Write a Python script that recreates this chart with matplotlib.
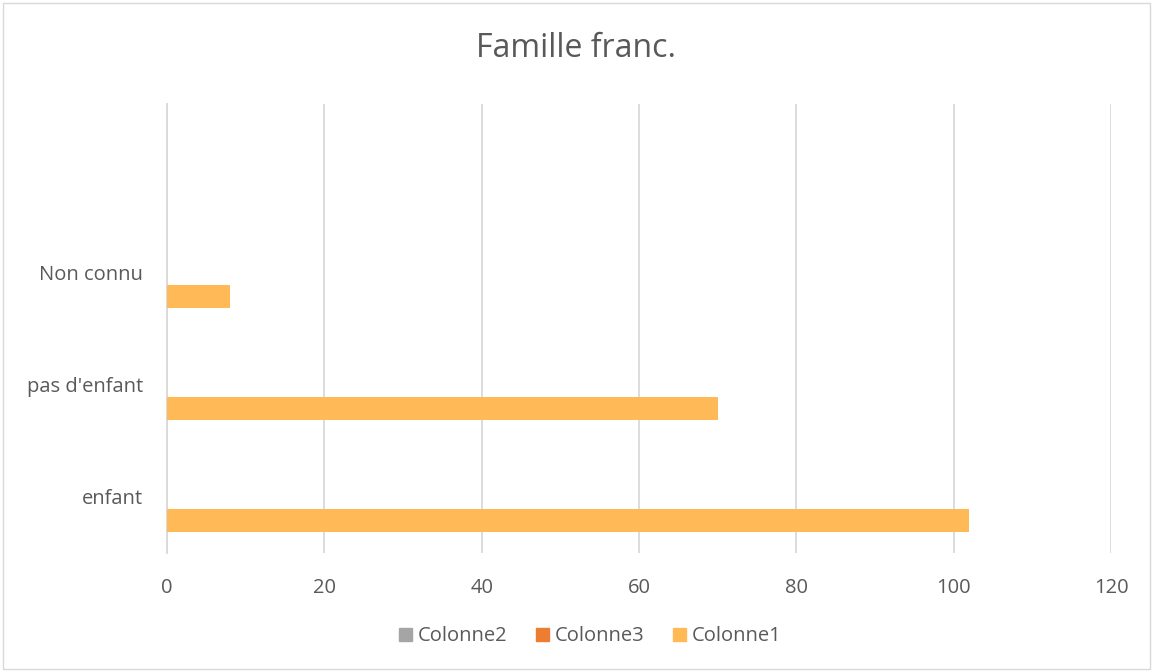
import matplotlib.pyplot as plt
from matplotlib.patches import Patch, Rectangle

categories = ['enfant', "pas d'enfant", 'Non connu']
colonne1 = [102, 70, 8]
colonne2 = [0, 0, 0]
colonne3 = [0, 0, 0]
x_ticks = [0, 20, 40, 60, 80, 100, 120]

text_color = '#595959'
grid_color = '#D9D9D9'
c1 = '#FFB957'
c2 = '#A5A5A5'
c3 = '#ED7D31'

plt.rcParams['font.family'] = ['Open Sans', 'DejaVu Sans']

fig = plt.figure(figsize=(11.53, 6.72), dpi=100)
ax = fig.add_axes([0.1448, 0.1771, 0.9636 - 0.1448, 0.8452 - 0.1771])

# outer chart border
fig.patches.append(Rectangle((0.003, 0.005), 0.994, 0.99, transform=fig.transFigure,
                             fill=False, edgecolor=grid_color, linewidth=1))

pos = list(range(len(categories)))
h = 0.204
ax.barh([p - 0.213 for p in pos], colonne1, height=h, color=c1, zorder=3)
ax.barh(pos, colonne3, height=h, color=c3, zorder=3)
ax.barh([p + 0.213 for p in pos], colonne2, height=h, color=c2, zorder=3)

ax.set_xlim(0, 120)
ax.set_ylim(-0.5, 3.5)
ax.set_xticks(x_ticks)
ax.set_yticks(pos)
ax.set_yticklabels(categories)
ax.grid(axis='x', color=grid_color, linewidth=1.3, zorder=0)
ax.tick_params(axis='both', length=0, labelsize=14.5, colors=text_color)
ax.tick_params(axis='x', pad=18)
ax.tick_params(axis='y', pad=17)
for s in ['top', 'right', 'bottom']:
    ax.spines[s].set_visible(False)
ax.spines['left'].set_color(grid_color)
ax.spines['left'].set_linewidth(1.3)

fig.text(0.5, 0.928, 'Famille franc.', ha='center', va='center',
         fontsize=23, color=text_color)

handles = [Patch(color=c2, label='Colonne2'),
           Patch(color=c3, label='Colonne3'),
           Patch(color=c1, label='Colonne1')]
leg = fig.legend(handles=handles, loc='center', bbox_to_anchor=(0.512, 0.053), ncol=3,
                 frameon=False, fontsize=14.5, handlelength=0.65, handleheight=0.65,
                 handletextpad=0.3, columnspacing=1.4)
for t in leg.get_texts():
    t.set_color(text_color)

fig.savefig('out.png', dpi=100)
